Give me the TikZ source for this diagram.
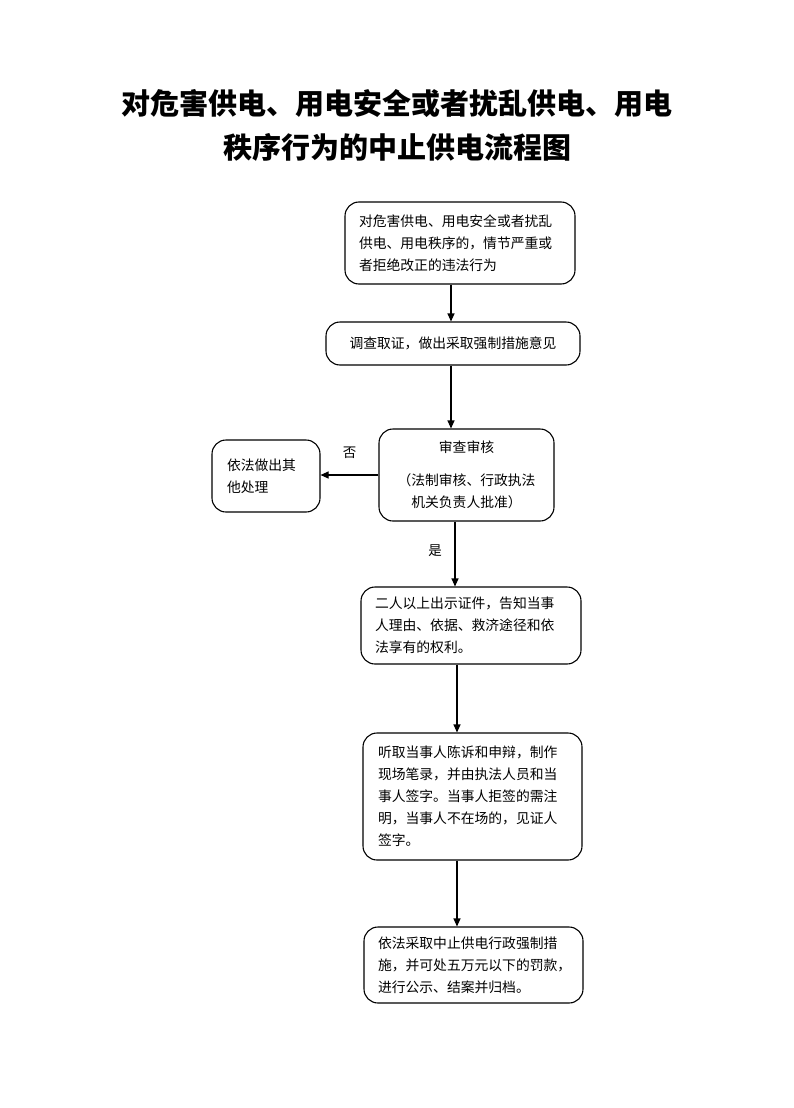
\documentclass[tikz,border=0pt]{standalone}
\usepackage{fontspec}
\setmainfont{Noto Sans CJK SC}
\usetikzlibrary{arrows.meta}
\tikzset{
  box/.style={draw, rounded corners=14pt, line width=1.1pt, inner xsep=14pt, inner ysep=0pt,
    align=left, font=\fontsize{13.8}{22}\selectfont},
  arr/.style={-{Triangle[length=8pt,width=7pt]}, line width=1.1pt},
  lbl/.style={font=\fontsize{13.5}{16}\selectfont},
}
\begin{document}
\begin{tikzpicture}[x=1pt, y=-1pt]
  \useasboundingbox (0,0) rectangle (794,1108);

  \node[font=\fontsize{29}{44}\selectfont\bfseries, align=center] (title) at (397,125)
    {对危害供电、用电安全或者扰乱供电、用电\\秩序行为的中止供电流程图};

  \node[box, text width=202pt, minimum height=82pt] (report) at (460,243)
    {对危害供电、用电安全或者扰乱\\供电、用电秩序的，情节严重或\\者拒绝改正的违法行为};
  \node[box, align=center, text width=226pt, minimum height=43pt] (survey) at (453,343.5)
    {调查取证，做出采取强制措施意见};
  \node[box, align=center, text width=147pt, minimum height=92pt] (review) at (466.5,475)
    {审查审核\\[11pt]（法制审核、行政执法\\机关负责人批准）};
  \node[box, inner xsep=15pt, text width=78pt, minimum height=72pt] (other) at (266,476)
    {依法做出其\\他处理};
  \node[box, text width=192pt, minimum height=77pt] (notify) at (471,625.5)
    {二人以上出示证件，告知当事\\人理由、依据、救济途径和依\\法享有的权利。};
  \node[box, inner xsep=15pt, text width=189pt, minimum height=127pt] (hear) at (472.5,796.5)
    {听取当事人陈诉和申辩，制作\\现场笔录，并由执法人员和当\\事人签字。当事人拒签的需注\\明，当事人不在场的，见证人\\签字。};
  \node[box, inner xsep=14pt, text width=191pt, minimum height=76pt] (stop) at (473.5,965)
    {依法采取中止供电行政强制措\\施，并可处五万元以下的罚款，\\进行公示、结案并归档。};

  \draw[arr] ([xshift=-9]report.south) -- ([xshift=-9]report.south |- survey.north);
  \draw[arr] ([xshift=-2]survey.south) -- ([xshift=-2]survey.south |- review.north);
  \draw[arr] (review.west) -- (review.west -| other.east) node[lbl, pos=0.5, yshift=22] (no) {否};
  \draw[arr] ([xshift=-11.5]review.south) -- ([xshift=-11.5]review.south |- notify.north)
    node[lbl, pos=0.45, xshift=-20] (yes) {是};
  \draw[arr] ([xshift=-14]notify.south) -- ([xshift=-14]notify.south |- hear.north);
  \draw[arr] ([xshift=-15.5]hear.south) -- ([xshift=-15.5]hear.south |- stop.north);
\end{tikzpicture}
\end{document}
